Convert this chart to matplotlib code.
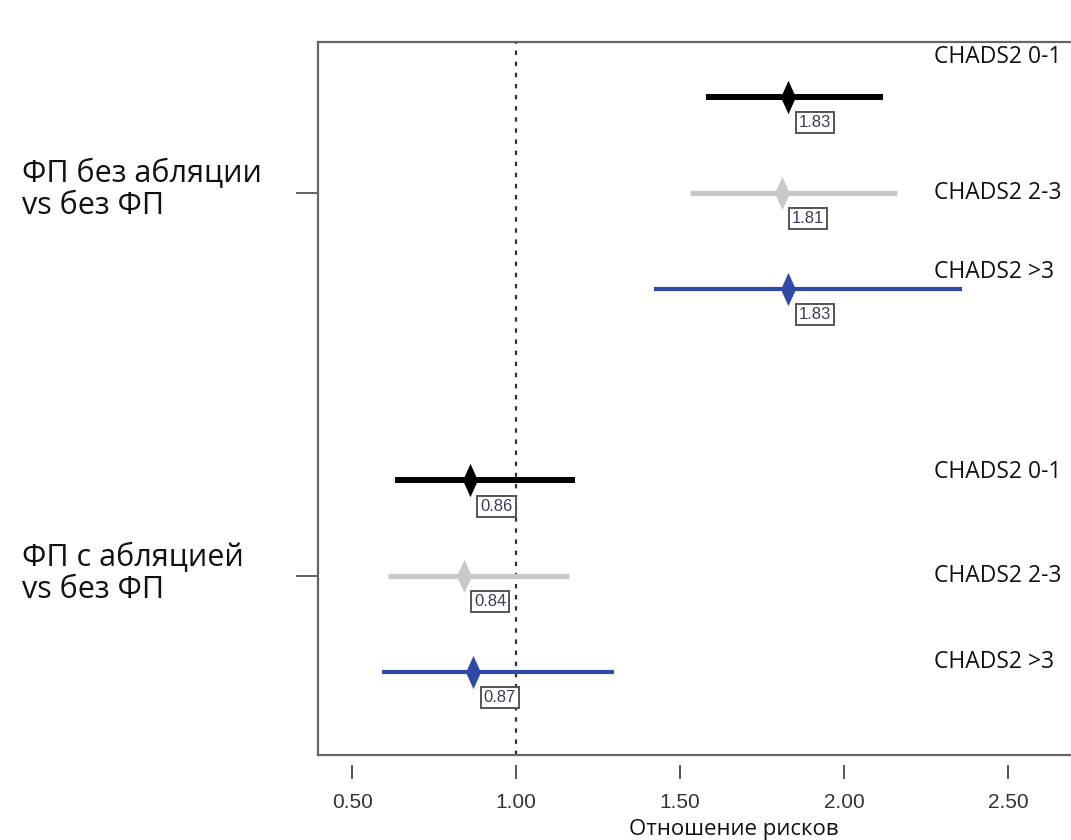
import numpy as np
import matplotlib
matplotlib.use("Agg")
import matplotlib.pyplot as plt
from matplotlib.path import Path

# данные: отношение рисков и доверительные интервалы
groups = ["ФП без абляции\nvs без ФП", "ФП с абляцией\nvs без ФП"]
subgroups = ["CHADS2 0-1", "CHADS2 2-3", "CHADS2 >3"]
hr = [[1.83, 1.81, 1.83], [0.86, 0.84, 0.87]]
ci_low = [[1.58, 1.53, 1.42], [0.63, 0.61, 0.59]]
ci_high = [[2.12, 2.16, 2.36], [1.18, 1.16, 1.30]]
xticks = [0.5, 1.0, 1.5, 2.0, 2.5]
xticklabels = ["0.50", "1.00", "1.50", "2.00", "2.50"]

colors = ["#000000", "#c8c8c8", "#2f4aa6"]
lws = [4.3, 3.8, 3.0]
rows = [[8, 7, 6], [4, 3, 2]]
label_dy = [[0.42, 0.0, 0.17], [0.09, 0.0, 0.1]]

# узкий ромб как маркер
diamond = Path([(0, 1), (0.45, 0), (0, -1), (-0.45, 0), (0, 1)],
               [Path.MOVETO, Path.LINETO, Path.LINETO, Path.LINETO, Path.CLOSEPOLY])

fig = plt.figure(figsize=(10.71, 8.4), dpi=100)
ax = fig.add_axes([318 / 1071, 85 / 840, 1 - 318 / 1071, 713 / 840])

for g in range(2):
    for i in range(3):
        y = rows[g][i]
        ax.plot([ci_low[g][i], ci_high[g][i]], [y, y], color=colors[i],
                lw=lws[i], solid_capstyle="butt", zorder=2)
        ax.plot(hr[g][i], y, marker=diamond, markersize=24, color=colors[i],
                markeredgewidth=0, zorder=3)
        ax.annotate(f"{hr[g][i]:.2f}", (hr[g][i], y), xytext=(19, -18.5),
                    textcoords="offset points", ha="center", va="center",
                    fontsize=12, color="#3c3c55", family="Liberation Sans",
                    bbox=dict(boxstyle="square,pad=0.18", fc="white",
                              ec="#555555", lw=1.4), zorder=4)
        ax.text(2.275, y + label_dy[g][i], subgroups[i], fontsize=16.5,
                family="Open Sans", ha="left", va="center", color="#111111")
    fig.text(22 / 1071, 1 - (190 if g == 0 else 574) / 840, groups[g],
             fontsize=22, family="Open Sans", ha="left", va="center",
             linespacing=1.1, color="#111111")

ax.axvline(1.0, color="#333333", lw=1.6, ls=(0, (2, 3)), zorder=1)

ax.set_xlim(0.396, 2.692)
ax.set_ylim(1.134, 8.574)
ax.set_yticks([7, 3])
ax.set_yticklabels([])
ax.tick_params(axis="y", length=16, width=1.3, color="#555555")
ax.set_xticks([])
for s in ["left", "bottom", "top"]:
    ax.spines[s].set_color("#666666")
    ax.spines[s].set_linewidth(1.6)
ax.spines["right"].set_visible(False)

sec = ax.secondary_xaxis(-0.014)
sec.set_xticks(xticks)
sec.set_xticklabels(xticklabels)
sec.spines["bottom"].set_visible(False)
sec.tick_params(length=10, width=1.4, color="#555555", pad=10, labelsize=15,
                labelcolor="#333333")
for lab in sec.get_xticklabels():
    lab.set_family("Liberation Sans")

fig.text(734 / 1071, 1 - 829 / 840, "Отношение рисков", fontsize=16,
         family="Open Sans", ha="center", va="center", color="#111111")

fig.savefig("out.png", dpi=100)
